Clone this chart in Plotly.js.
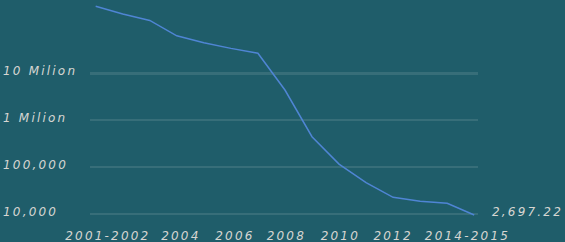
<!DOCTYPE html>
<html>
<head>
<meta charset="utf-8">
<script src="https://cdn.plot.ly/plotly-3.0.1.min.js"></script>
<style>
  html, body { margin: 0; padding: 0; background: #1f5d6a; }
  #chart { width: 565px; height: 242px; }
  svg text { letter-spacing: 2.2px; }
</style>
</head>
<body>
<div id="chart"></div>
<script>
// Years of the series (one point per year)
const years = [2001, 2002, 2003, 2004, 2005, 2006, 2007, 2008, 2009, 2010, 2011, 2012, 2013, 2014, 2015];
// Values read against the log axis
const values = [2.68e8, 1.84e8, 1.34e8, 6.3e7, 4.5e7, 3.4e7, 2.67e7, 4.4e6, 4.45e5, 1.16e5, 4.65e4, 2.27e4, 1.87e4, 1.69e4, 9.5e3];
// Value label shown at the end of the line
const endLabel = '2,697.22';

// x tick labels and where they sit on the year scale
const xTickText = ['2001-2002', '2004', '2006', '2008', '2010', '2012', '2014-2015'];
const xTickVals = [2001.45, 2004.15, 2006.15, 2008.05, 2010.05, 2012.0, 2014.75];

// y tick values and labels
const yTickVals = [1e4, 1e5, 1e6, 1e7];
const yTickText = ['10,000', '100,000', '1 Milion', '10 Milion'];

const textColor = '#d6d6d2';
const fontFamily = '"DejaVu Sans", sans-serif';

const trace = {
  x: years,
  y: values,
  type: 'scatter',
  mode: 'lines',
  line: { color: '#4f85d4', width: 1.5 },
  hoverinfo: 'skip'
};

const annotations = yTickVals.map((v, i) => ({
  xref: 'paper', yref: 'y',
  x: 0, y: Math.log10(v),
  xanchor: 'left', yanchor: 'middle',
  xshift: -89, yshift: 2,
  text: yTickText[i],
  showarrow: false,
  font: { family: fontFamily, size: 12, color: textColor, style: 'italic' }
}));

annotations.push({
  xref: 'x', yref: 'y',
  x: years[years.length - 1], y: Math.log10(values[values.length - 1]),
  xanchor: 'left', yanchor: 'middle',
  xshift: 16, yshift: 3,
  text: endLabel,
  showarrow: false,
  font: { family: fontFamily, size: 12, color: textColor, style: 'italic' }
});

const layout = {
  width: 565, height: 242,
  margin: { l: 90, r: 87, t: 0, b: 16, pad: 0 },
  paper_bgcolor: '#1f5d6a',
  plot_bgcolor: '#1f5d6a',
  showlegend: false,
  xaxis: {
    range: [2000.79, 2015.14],
    tickmode: 'array',
    tickvals: xTickVals,
    ticktext: xTickText,
    showgrid: false, zeroline: false, showline: false,
    ticks: '',
    ticklabelstandoff: 1,
    tickfont: { family: fontFamily, size: 12, color: textColor, style: 'italic' },
    fixedrange: true
  },
  yaxis: {
    type: 'log',
    range: [3.744, 8.563],
    tickmode: 'array',
    tickvals: yTickVals,
    ticktext: yTickText,
    showticklabels: false,
    showgrid: true,
    gridcolor: 'rgba(175,195,195,0.17)',
    gridwidth: 2.5,
    zeroline: false, showline: false,
    ticks: '',
    fixedrange: true
  },
  annotations: annotations
};

Plotly.newPlot('chart', [trace], layout, { displayModeBar: false, staticPlot: true });
</script>
</body>
</html>
